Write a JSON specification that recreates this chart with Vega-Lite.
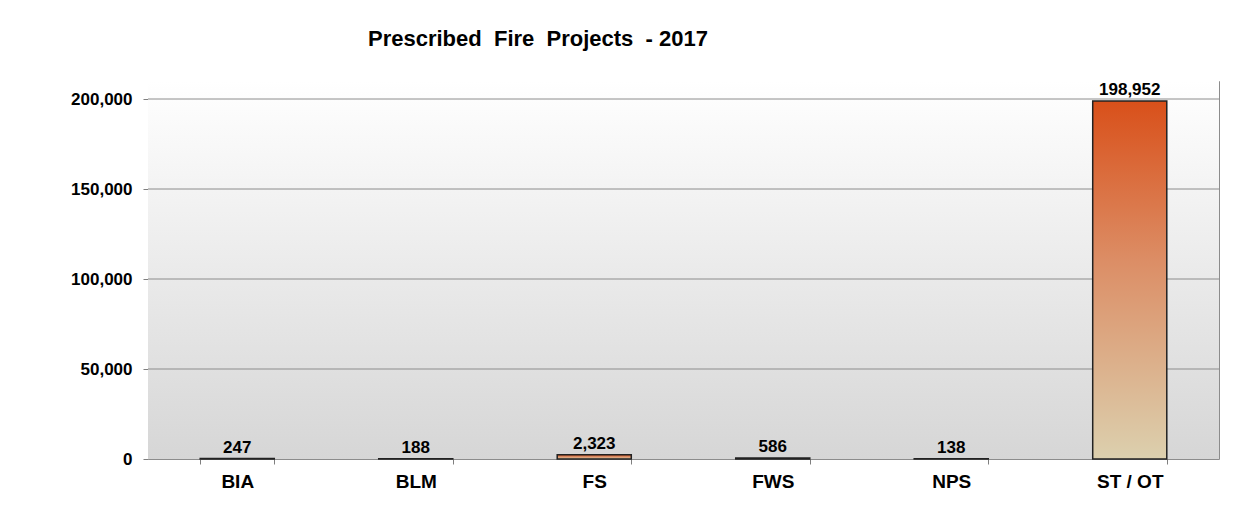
{
  "$schema": "https://vega.github.io/schema/vega-lite/v6.json",
  "width": 1071,
  "height": 378,
  "autosize": "none",
  "padding": {"left": 148, "top": 81, "right": 25, "bottom": 47},
  "background": "white",
  "title": {
    "text": "Prescribed\u00a0 Fire\u00a0 Projects\u00a0 - 2017",
    "anchor": "start",
    "frame": "group",
    "dx": 220,
    "offset": 13,
    "baseline": "alphabetic",
    "font": "Liberation Sans",
    "fontSize": 22,
    "fontWeight": "bold",
    "color": "#000000"
  },
  "config": {
    "view": {"stroke": "#8c8c8c", "strokeWidth": 1},
    "axis": {
      "labelFont": "Liberation Sans",
      "labelFontWeight": "bold",
      "labelColor": "#000000",
      "tickColor": "#7f7f7f",
      "domain": false,
      "title": null
    }
  },
  "data": {
    "values": [
      {"agency": "BIA", "value": 247},
      {"agency": "BLM", "value": 188},
      {"agency": "FS", "value": 2323},
      {"agency": "FWS", "value": 586},
      {"agency": "NPS", "value": 138},
      {"agency": "ST / OT", "value": 198952}
    ]
  },
  "layer": [
    {
      "data": {"values": [{"k": 1}]},
      "mark": {
        "type": "rect",
        "fill": {
          "gradient": "linear",
          "x1": 0, "y1": 0, "x2": 0, "y2": 1,
          "stops": [
            {"offset": 0, "color": "#ffffff"},
            {"offset": 1, "color": "#d6d6d6"}
          ]
        }
      },
      "encoding": {
        "y": {"datum": 210000, "type": "quantitative", "scale": {"domain": [0, 210000], "nice": false}},
        "y2": {"datum": 0}
      }
    },
    {
      "data": {"values": [{"g": 50000}, {"g": 100000}, {"g": 150000}, {"g": 200000}]},
      "mark": {"type": "rule", "color": "#8c8c8c", "strokeWidth": 1},
      "encoding": {
        "y": {"field": "g", "type": "quantitative"}
      }
    },
    {
      "mark": {
        "type": "bar",
        "stroke": "#222222",
        "strokeWidth": 1.5,
        "fill": {
          "gradient": "linear",
          "x1": 0, "y1": 0, "x2": 0, "y2": 1,
          "stops": [
            {"offset": 0, "color": "#d9501a"},
            {"offset": 0.45, "color": "#dc8e66"},
            {"offset": 1, "color": "#dcd0ae"}
          ]
        }
      },
      "encoding": {
        "x": {
          "field": "agency",
          "type": "nominal",
          "sort": null,
          "scale": {"paddingInner": 0.585, "paddingOuter": 0.2925},
          "axis": {
            "labelAngle": 0,
            "labelFontSize": 19,
            "labelPadding": 8,
            "tickSize": 5,
            "tickBand": "extent",
            "grid": false
          }
        },
        "y": {
          "field": "value",
          "type": "quantitative",
          "scale": {"domain": [0, 210000], "nice": false},
          "axis": {
            "values": [0, 50000, 100000, 150000, 200000],
            "format": ",d",
            "labelFontSize": 17,
            "labelPadding": 11,
            "tickSize": 5,
            "grid": false
          }
        }
      }
    },
    {
      "mark": {
        "type": "text",
        "baseline": "alphabetic",
        "dy": -6,
        "font": "Liberation Sans",
        "fontSize": 17,
        "fontWeight": "bold",
        "color": "#000000"
      },
      "encoding": {
        "x": {"field": "agency", "type": "nominal", "sort": null},
        "y": {"field": "value", "type": "quantitative"},
        "text": {"field": "value", "type": "quantitative", "format": ","}
      }
    }
  ]
}
